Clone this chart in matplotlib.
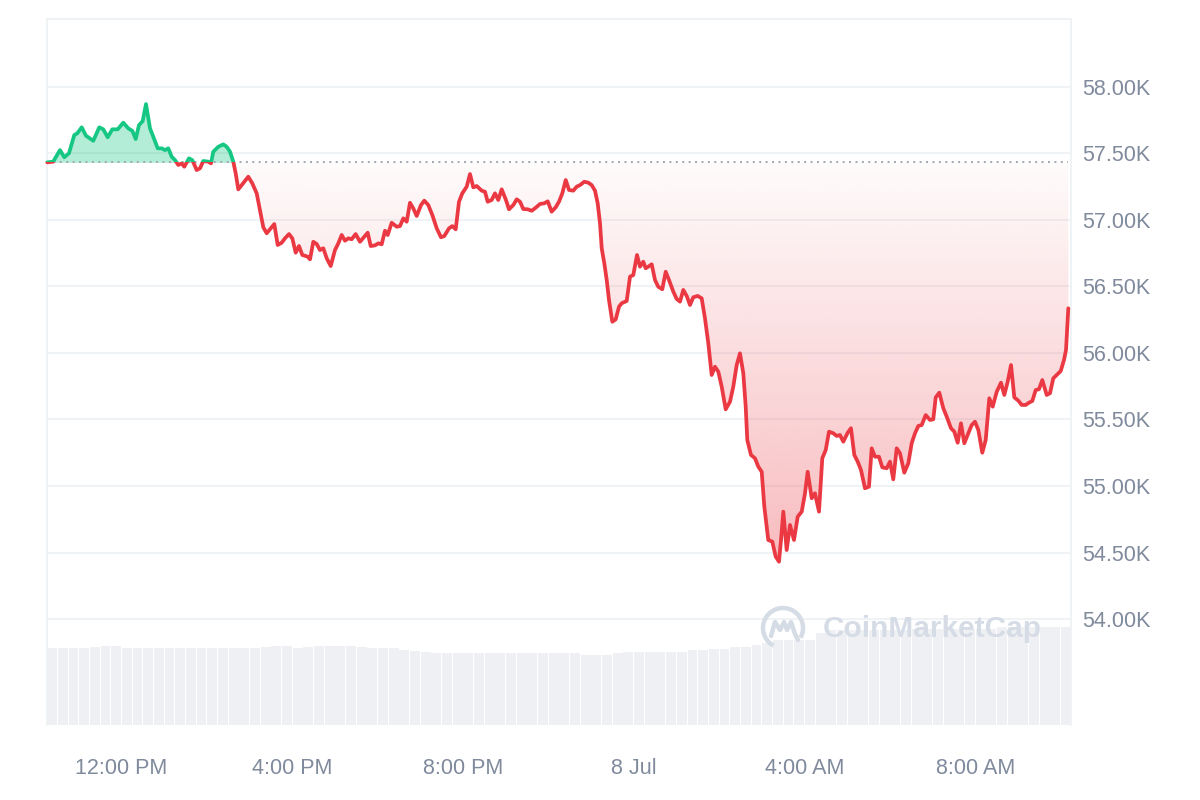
import numpy as np
import matplotlib
matplotlib.use("Agg")
import matplotlib.pyplot as plt
from matplotlib.patches import Rectangle, Arc
from matplotlib.path import Path
from matplotlib.lines import Line2D

# ---- data: time in hours since 00:00 on 7 Jul, price in thousands USD ----
times = [10.26, 10.40, 10.559, 10.660, 10.770, 10.894, 10.965, 11.068, 11.168, 11.339,
         11.480, 11.574, 11.677, 11.784, 11.911, 12.042, 12.159, 12.253, 12.333, 12.410,
         12.497, 12.574, 12.668, 12.745, 12.848, 12.942, 13.019, 13.096, 13.176, 13.253,
         13.331, 13.410, 13.471, 13.581, 13.658, 13.762, 13.839, 13.916, 14.033, 14.097,
         14.150, 14.268, 14.385, 14.464, 14.542, 14.619, 14.675, 14.736, 14.816, 14.970,
         15.064, 15.167, 15.244, 15.322, 15.401, 15.518, 15.579, 15.659, 15.753, 15.830,
         15.924, 16.001, 16.081, 16.158, 16.235, 16.362, 16.416, 16.493, 16.573, 16.650,
         16.727, 16.807, 16.901, 17.001, 17.079, 17.158, 17.235, 17.313, 17.392, 17.486,
         17.587, 17.688, 17.767, 17.838, 17.938, 18.016, 18.095, 18.172, 18.236, 18.329,
         18.447, 18.524, 18.601, 18.681, 18.758, 18.835, 18.915, 19.016, 19.093, 19.187,
         19.281, 19.384, 19.484, 19.562, 19.672, 19.749, 19.829, 19.906, 19.983, 20.086,
         20.164, 20.241, 20.321, 20.438, 20.515, 20.578, 20.672, 20.749, 20.826, 20.906,
         21.000, 21.077, 21.178, 21.258, 21.335, 21.412, 21.515, 21.609, 21.703, 21.803,
         21.904, 21.984, 22.077, 22.171, 22.248, 22.326, 22.406, 22.483, 22.583, 22.663,
         22.740, 22.841, 22.935, 23.014, 23.092, 23.155, 23.209, 23.249, 23.310, 23.366,
         23.420, 23.497, 23.577, 23.654, 23.717, 23.834, 23.912, 23.989, 24.076, 24.146,
         24.223, 24.279, 24.340, 24.420, 24.497, 24.574, 24.668, 24.748, 24.825, 24.926,
         25.006, 25.083, 25.160, 25.240, 25.317, 25.394, 25.497, 25.591, 25.668, 25.746,
         25.825, 25.903, 25.980, 26.060, 26.153, 26.254, 26.331, 26.411, 26.488, 26.566,
         26.622, 26.659, 26.746, 26.840, 26.917, 26.997, 27.058, 27.151, 27.245, 27.325,
         27.402, 27.449, 27.503, 27.582, 27.660, 27.753, 27.840, 27.934, 28.011, 28.074,
         28.168, 28.245, 28.339, 28.416, 28.496, 28.573, 28.674, 28.753, 28.831, 28.908,
         29.011, 29.088, 29.166, 29.245, 29.323, 29.416, 29.510, 29.573, 29.651, 29.744,
         29.822, 29.925, 30.002, 30.079, 30.159, 30.236, 30.337, 30.431, 30.510, 30.588,
         30.665, 30.745, 30.838, 30.939, 31.016, 31.073, 31.157, 31.251, 31.330, 31.431,
         31.509, 31.588, 31.665, 31.743, 31.836, 31.916, 31.993, 32.071, 32.164, 32.244,
         32.328, 32.408, 32.502, 32.602, 32.680, 32.759, 32.837, 32.914, 33.008, 33.087,
         33.181, 33.258, 33.336, 33.415, 33.492, 33.570, 33.673, 33.750, 33.827, 33.907,
         34.001, 34.078, 34.125, 34.179]

prices = [57.432, 57.437, 57.524, 57.470, 57.500, 57.637, 57.650, 57.695, 57.632, 57.594,
          57.695, 57.680, 57.620, 57.680, 57.680, 57.730, 57.687, 57.669, 57.607, 57.712,
          57.742, 57.870, 57.687, 57.624, 57.537, 57.537, 57.524, 57.537, 57.474, 57.449,
          57.412, 57.424, 57.399, 57.462, 57.449, 57.374, 57.387, 57.442, 57.437, 57.424,
          57.512, 57.549, 57.567, 57.549, 57.512, 57.437, 57.349, 57.229, 57.261, 57.324,
          57.274, 57.199, 57.074, 56.944, 56.899, 56.944, 56.968, 56.811, 56.828, 56.861,
          56.893, 56.861, 56.753, 56.803, 56.736, 56.723, 56.703, 56.835, 56.818, 56.773,
          56.786, 56.711, 56.653, 56.773, 56.823, 56.886, 56.843, 56.861, 56.854, 56.893,
          56.835, 56.873, 56.903, 56.803, 56.808, 56.823, 56.816, 56.918, 56.886, 56.978,
          56.948, 56.953, 57.011, 56.986, 57.128, 57.086, 57.029, 57.111, 57.144, 57.111,
          57.036, 56.936, 56.869, 56.878, 56.936, 56.953, 56.929, 57.136, 57.199, 57.249,
          57.344, 57.244, 57.254, 57.219, 57.211, 57.136, 57.149, 57.199, 57.149, 57.229,
          57.154, 57.079, 57.111, 57.154, 57.136, 57.081, 57.079, 57.068, 57.091, 57.119,
          57.124, 57.139, 57.061, 57.094, 57.136, 57.199, 57.299, 57.224, 57.219, 57.249,
          57.261, 57.286, 57.279, 57.261, 57.219, 57.124, 56.974, 56.786, 56.673, 56.548,
          56.397, 56.234, 56.252, 56.347, 56.373, 56.390, 56.573, 56.585, 56.736, 56.648,
          56.685, 56.636, 56.648, 56.666, 56.548, 56.497, 56.478, 56.610, 56.548, 56.460,
          56.405, 56.385, 56.473, 56.428, 56.360, 56.418, 56.428, 56.410, 56.260, 56.072,
          55.834, 55.896, 55.859, 55.746, 55.576, 55.633, 55.746, 55.909, 55.997, 55.847,
          55.596, 55.346, 55.233, 55.208, 55.145, 55.107, 54.845, 54.594, 54.582, 54.469,
          54.431, 54.594, 54.807, 54.519, 54.707, 54.594, 54.769, 54.807, 54.945, 55.107,
          54.908, 54.945, 54.807, 55.208, 55.270, 55.408, 55.396, 55.376, 55.383, 55.333,
          55.400, 55.434, 55.233, 55.183, 55.120, 54.983, 54.995, 55.283, 55.220, 55.220,
          55.140, 55.133, 55.183, 55.050, 55.283, 55.246, 55.100, 55.171, 55.321, 55.396,
          55.451, 55.458, 55.533, 55.496, 55.501, 55.666, 55.701, 55.584, 55.521, 55.434,
          55.408, 55.325, 55.471, 55.321, 55.396, 55.458, 55.483, 55.421, 55.250, 55.346,
          55.659, 55.596, 55.708, 55.776, 55.684, 55.784, 55.909, 55.666, 55.641, 55.609,
          55.609, 55.626, 55.639, 55.721, 55.727, 55.796, 55.684, 55.697, 55.809, 55.834,
          55.864, 55.947, 56.022, 56.335]

# volume (billions USD), one bar per 15 minutes from 10:15 on 7 Jul
volumes = [24.0, 24.0, 24.0, 24.0, 24.3, 24.6, 24.6,
           24.0, 24.0, 24.0, 24.0, 24.0, 24.0, 24.0, 24.0, 24.0, 24.0, 24.0, 24.0, 24.0,
           24.3, 24.6, 24.6, 24.0, 24.3, 24.6, 24.6, 24.6, 24.6, 24.3, 24.0, 24.0, 24.0,
           23.4, 23.1, 22.7,
           22.4, 22.4, 22.4, 22.4, 22.4, 22.4, 22.4, 22.4, 22.4, 22.4, 22.4, 22.4, 22.4, 22.4,
           21.8, 21.8, 21.8, 22.4, 22.9, 22.9, 22.9, 22.9, 22.9, 22.9, 23.4, 23.4, 23.8, 23.8,
           24.3, 24.3, 24.9, 25.5, 26.5, 26.5, 26.5, 26.5, 28.7,
           29.6, 29.6, 29.6, 29.6, 29.6, 29.6, 29.6, 29.6,
           30.0, 30.0, 30.0, 30.0, 30.0, 30.0, 30.0, 30.0,
           30.5, 30.5, 30.5, 30.5, 30.5, 30.5, 30.5]
vol_start = 10.25
vol_step = 0.25

x_ticks = [12, 16, 20, 24, 28, 32]
x_labels = ["12:00 PM", "4:00 PM", "8:00 PM", "8 Jul", "4:00 AM", "8:00 AM"]
y_ticks = [54.0, 54.5, 55.0, 55.5, 56.0, 56.5, 57.0, 57.5, 58.0]
y_labels = ["54.00K", "54.50K", "55.00K", "55.50K", "56.00K", "56.50K", "57.00K", "57.50K", "58.00K"]

# ---- styling ----
GREEN = "#16c784"
RED = "#ea3943"
GRID = "#eff2f5"
TEXT = "#808a9d"
plt.rcParams["font.family"] = ["Liberation Sans", "DejaVu Sans"]

W, H = 1200, 800
fig = plt.figure(figsize=(12, 8), dpi=100)
L, R, T, B = 46.7, 1070.7, 19, 725
pos = [L / W, 1 - B / H, (R - L) / W, (B - T) / H]

xmin, xmax = 10.248, 34.235
ymin, ymax = 53.204, 58.509

# volume axes (behind)
axv = fig.add_axes(pos, zorder=1)
vt = np.array(volumes)
vx = vol_start + vol_step * (np.arange(len(vt)) + 0.5)
axv.bar(vx, vt, width=vol_step * 0.93, color="#eef0f3", linewidth=0)
axv.set_xlim(xmin, xmax)
axv.set_ylim(0, 220)
axv.axis("off")

# price axes
ax = fig.add_axes(pos, zorder=2)
ax.patch.set_visible(False)
t = np.array(times)
p = np.array(prices)
base = p[0]

ax.set_xlim(xmin, xmax)
ax.set_ylim(ymin, ymax)

# grid
for yv in y_ticks:
    ax.axhline(yv, color=GRID, lw=1.3, zorder=0)

# green fill above baseline
ax.fill_between(t, np.maximum(p, base), base, color=GREEN, alpha=0.32, linewidth=0, zorder=1)

# red gradient fill below baseline
pmin = p.min()
n = 256
alphas = np.linspace(0.34, 0.02, n)
rgba = np.zeros((n, 1, 4))
rgba[..., 0] = 234 / 255
rgba[..., 1] = 57 / 255
rgba[..., 2] = 67 / 255
rgba[:, 0, 3] = alphas
im = ax.imshow(rgba, extent=[t[0], t[-1], pmin, base], origin="lower",
               aspect="auto", zorder=1, interpolation="bilinear")
lower = np.minimum(p, base)
verts = np.concatenate([np.column_stack([t, lower]),
                        np.column_stack([t[::-1], np.full(len(t), base)])])
clip = Path(verts, closed=False)
im.set_clip_path(clip, transform=ax.transData)
ax.set_xlim(xmin, xmax)
ax.set_ylim(ymin, ymax)

# baseline dotted
ax.plot([t[0], t[-1]], [base, base], color="#a0a6b0", lw=1.4,
        dashes=(1, 2.3), zorder=2, dash_capstyle="butt")

# price line, green above / red below
big = 100
up_rect = Rectangle((xmin - 5, base), xmax - xmin + 10, big, transform=ax.transData)
dn_rect = Rectangle((xmin - 5, base - big), xmax - xmin + 10, big, transform=ax.transData)
lg, = ax.plot(t, p, color=GREEN, lw=2.7, zorder=3, solid_joinstyle="round", solid_capstyle="round")
lr, = ax.plot(t, p, color=RED, lw=2.7, zorder=3, solid_joinstyle="round", solid_capstyle="round")
lg.set_clip_path(up_rect)
lr.set_clip_path(dn_rect)

# axes styling
for side in ["left", "top", "right"]:
    ax.spines[side].set_color(GRID)
    ax.spines[side].set_linewidth(1.3)
ax.spines["bottom"].set_visible(False)
ax.yaxis.tick_right()
ax.set_yticks(y_ticks)
ax.set_yticklabels(y_labels)
ax.set_xticks(x_ticks)
ax.set_xticklabels(x_labels)
ax.tick_params(axis="y", length=0, pad=8, labelsize=15.5, labelcolor=TEXT)
ax.tick_params(axis="x", length=0, pad=24, labelsize=15.5, labelcolor=TEXT)

# watermark
WM = "#d6dce6"
fig.text(823 / W, 1 - 629 / H, "CoinMarketCap", fontsize=21.5, fontweight="bold",
         color=WM, ha="left", va="center", zorder=5)
cx, cy, r = 783, 628, 20
fig.add_artist(Arc((cx / W, 1 - cy / H), 2 * r / W, 2 * r / H, theta1=-40, theta2=250,
                   transform=fig.transFigure, color=WM, lw=3.2, zorder=5))
mx = np.array([-12, -8, -3, 1, 4, 8, 12, 15]) + cx
my = np.array([8, -6, 2, -6, 2, -6, 6, 12]) + cy
fig.add_artist(Line2D(mx / W, 1 - my / H, transform=fig.transFigure, color=WM, lw=3.2,
                      solid_joinstyle="round", solid_capstyle="round", zorder=5))

fig.savefig("out.png", dpi=100, facecolor="white")
